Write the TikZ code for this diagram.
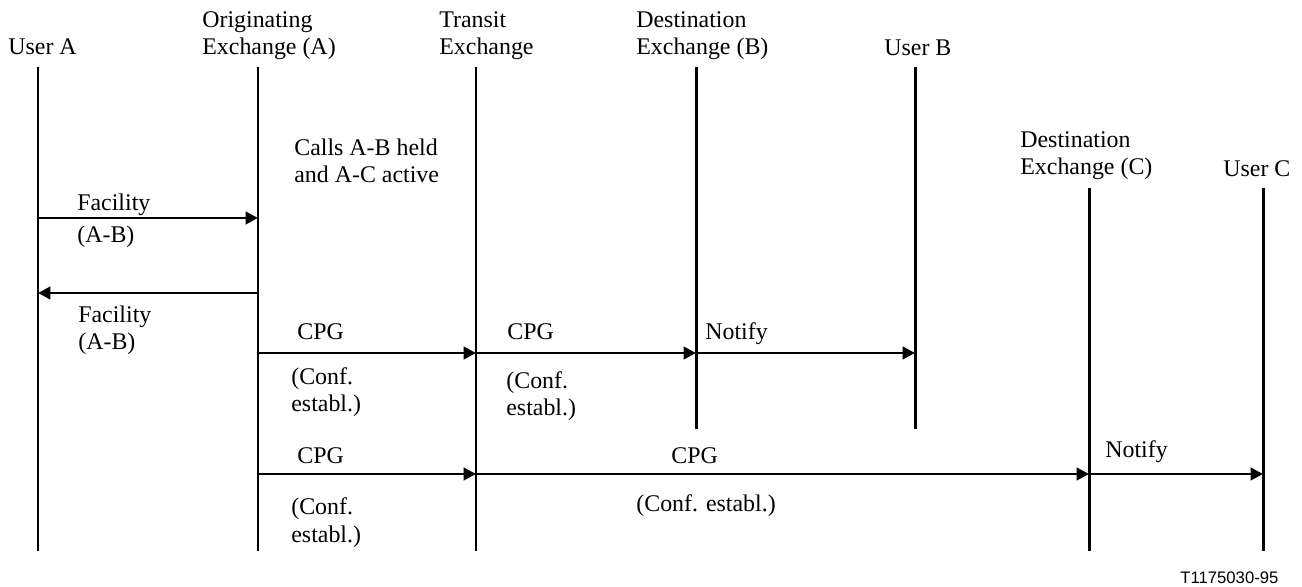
\documentclass[tikz,border=0pt]{standalone}
\usepackage{fontspec}
\setmainfont{Liberation Serif}
\newfontfamily\figidfont{Liberation Sans}
\usetikzlibrary{arrows.meta, positioning}

\tikzset{
  lifeline/.style={line width=1.7pt},
  msg/.style={line width=1.7pt, -{Triangle[length=0.25cm, width=0.25cm]}},
  lbl/.style={anchor=base west, inner sep=0pt, align=left,
    font=\fontsize{13.6}{15.9}\selectfont},
}

\begin{document}
\begin{tikzpicture}[x=0.02cm, y=-0.02cm]
  \useasboundingbox (0,0) rectangle (1302,587);

  % Headers
  \node[lbl] (userA) at (8,55) {User A};
  \node[lbl] (origA) at (202,55) {Originating\\Exchange (A)};
  \node[lbl] (transit) at (439,55) {Transit\\Exchange};
  \node[lbl] (destB) at (636,55) {Destination\\Exchange (B)};
  \node[lbl] (userB) at (884,56) {User B};
  \node[lbl] (destC) at (1020,175) {Destination\\Exchange (C)};
  \node[lbl] (userC) at (1223,177) {User C};

  % Lifelines
  \coordinate (uAt) at (38,67);   \coordinate (uAb) at (38,551);
  \coordinate (oAt) at (258,67);  \coordinate (oAb) at (258,551);
  \coordinate (trt) at (476,67);  \coordinate (trb) at (476,551);
  \coordinate (dBt) at (696,67);  \coordinate (dBb) at (696,429);
  \coordinate (uBt) at (915,67);  \coordinate (uBb) at (915,429);
  \coordinate (dCt) at (1089,188); \coordinate (dCb) at (1089,551);
  \coordinate (uCt) at (1263,188); \coordinate (uCb) at (1263,551);
  \foreach \l in {uA, oA, tr, dB, uB, dC, uC}
    \draw[lifeline] (\l t) -- (\l b);

  % State note
  \node[lbl] (state) at (294,183) {Calls A-B held\\and A-C active};

  % Message rows
  \coordinate (r1) at (0,218);
  \coordinate (r2) at (0,293);
  \coordinate (r3) at (0,353);
  \coordinate (r4) at (0,474);

  % Facility A -> Originating
  \draw[msg] (uAt |- r1) -- (oAt |- r1);
  \node[lbl] (fac1) at (77,211) {Facility};
  \node[lbl] (fac1ab) at (77,243) {(A-B)};

  % Facility Originating -> A
  \draw[msg] (oAt |- r2) -- (uAt |- r2);
  \node[lbl] (fac2) at (78,350) {Facility\\(A-B)};

  % CPG towards B
  \draw[msg] (oAt |- r3) -- (trt |- r3);
  \draw[msg] (trt |- r3) -- (dBt |- r3);
  \draw[msg] (dBt |- r3) -- (uBt |- r3);
  \node[lbl] (cpg1) at (297,340) {CPG};
  \node[lbl] (conf1) at (291,412) {(Conf.\\establ.)};
  \node[lbl] (cpg2) at (507,340) {CPG};
  \node[lbl] (conf2) at (506,416) {(Conf.\\establ.)};
  \node[lbl] (notify1) at (705,340) {Notify};

  % CPG towards C
  \draw[msg] (oAt |- r4) -- (trt |- r4);
  \draw[msg] (trt |- r4) -- (dCt |- r4);
  \draw[msg] (dCt |- r4) -- (uCt |- r4);
  \node[lbl] (cpg3) at (297,463) {CPG};
  \node[lbl] (conf3) at (291,542) {(Conf.\\establ.)};
  \node[lbl] (cpg4) at (671,463) {CPG};
  \node[lbl] (conf4) at (636,512) {(Conf. establ.)};
  \node[lbl] (notify2) at (1105,458) {Notify};

  % Figure number
  \node[anchor=base west, inner sep=0pt, font=\figidfont\fontsize{9.5}{11}\selectfont]
    (figid) at (1180,583) {T1175030-95};
\end{tikzpicture}
\end{document}
